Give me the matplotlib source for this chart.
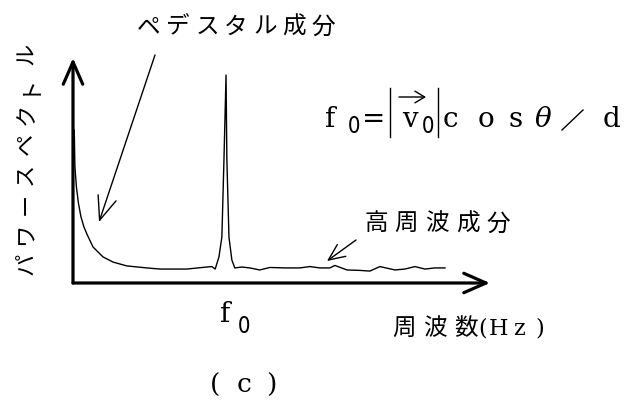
import numpy as np
import matplotlib
matplotlib.use("Agg")
import matplotlib.pyplot as plt

W, H = 636, 405

# power spectrum sketch (frequency and power in arbitrary units, 0-100)
freq = [0.30, 0.45, 0.80, 1.30, 1.90, 2.60, 3.40, 4.80, 7.19, 9.59, 12.9, 17.7,
        20.9, 27.3, 32.1, 33.3, 34.1, 35.0, 35.7, 36.2, 36.7, 36.9, 37.4, 38.1,
        38.8, 40.5, 42.4, 44.8, 47.2, 50.8, 54.4, 56.8, 59.2, 61.6, 62.8, 65.7,
        68.8, 71.2, 73.6, 77.2, 79.6, 82.0, 84.4, 86.8, 89.2]
power = [68.0, 52.0, 43.0, 35.5, 29.5, 25.0, 21.5, 16.0, 11.6, 9.3, 7.6, 6.7,
         6.2, 6.2, 7.1, 7.3, 6.2, 11.6, 20.4, 54.7, 92.4, 54.7, 20.4, 10.2,
         6.7, 7.1, 6.7, 5.8, 6.9, 6.7, 6.7, 7.3, 6.7, 6.7, 7.8, 5.8,
         5.6, 5.3, 7.3, 5.8, 6.2, 7.3, 6.2, 6.7, 6.7]

ylabel_chars = "パワースペクトル"
pedestal_label = "ペデスタル成分"
highfreq_label = "高周波成分"
xlabel_chars = "周波数"

JP = "Noto Sans CJK JP"
SERIF = "DejaVu Serif"

fig = plt.figure(figsize=(W / 100, H / 100), dpi=100)
fig.patch.set_facecolor("white")

# plot area: origin at pixel (73, 283), arrow tips at (73, 58) and (490, 283)
x0, y0, x1, y1 = 73, 283, 490, 58
ax = fig.add_axes([x0 / W, 1 - y0 / H, (x1 - x0) / W, (y0 - y1) / H])
ax.set_xlim(0, 100)
ax.set_ylim(0, 100)
ax.axis("off")
ax.plot(freq, power, color="black", lw=1.0, solid_joinstyle="round")

# axes drawn as arrows
arrow_kw = dict(arrowstyle="->,head_length=0.8,head_width=0.35",
                color="black", lw=2.3, mutation_scale=20, shrinkA=0, shrinkB=0)
ax.annotate("", xy=(0, 1), xytext=(0, 0), xycoords="axes fraction",
            arrowprops=arrow_kw, annotation_clip=False)
ax.annotate("", xy=(1, 0), xytext=(0, 0), xycoords="axes fraction",
            arrowprops=arrow_kw, annotation_clip=False)

# overlay in pixel coordinates for the labels
ov = fig.add_axes([0, 0, 1, 1], facecolor="none")
ov.set_xlim(0, W)
ov.set_ylim(H, 0)
ov.axis("off")


def spaced(x, y, s, step, **kw):
    for i, ch in enumerate(s):
        ov.text(x + i * step, y, ch, ha="center", va="center", **kw)


# vertical axis label, read bottom to top
for i, ch in enumerate(ylabel_chars):
    ov.text(26, 264 - i * 30, ch, ha="center", va="center", rotation=90,
            fontsize=16, family=JP)

spaced(149, 27, pedestal_label, 29, fontsize=17, family=JP)
ov.annotate("", xy=(99, 222), xytext=(155, 55),
            arrowprops=dict(arrowstyle="->,head_length=1.0,head_width=0.4",
                            color="black", lw=1.0, mutation_scale=17,
                            shrinkA=0, shrinkB=0))

spaced(376, 224, highfreq_label, 30.5, fontsize=17, family=JP)
ov.annotate("", xy=(327, 261), xytext=(356, 240),
            arrowprops=dict(arrowstyle="->,head_length=0.9,head_width=0.4",
                            color="black", lw=1.0, mutation_scale=13,
                            shrinkA=0, shrinkB=0))

# frequency axis label
spaced(404, 329, xlabel_chars, 31, fontsize=17, family=JP)
for x, ch in zip([483, 499, 519, 540], "(Hz)"):
    ov.text(x, 329, ch, ha="center", va="center", fontsize=16, family=SERIF)

# f0 below the peak
ov.text(225, 322, "f", ha="center", va="baseline", fontsize=20, family=SERIF)
ov.text(244, 333, "0", ha="center", va="baseline", fontsize=16, family=JP)

# f0 = |v0| cos θ / d
base = 127
ov.text(330, base, "f", ha="center", va="baseline", fontsize=20, family=SERIF)
ov.text(354, base + 6, "0", ha="center", va="baseline", fontsize=16, family=JP)
ov.text(374, base, "=", ha="center", va="baseline", fontsize=20, family=SERIF)
ov.plot([390, 390], [88, 137], color="black", lw=1.0)
ov.plot([438, 438], [88, 137], color="black", lw=1.0)
ov.annotate("", xy=(426, 97), xytext=(399, 97),
            arrowprops=dict(arrowstyle="->,head_length=0.5,head_width=0.3",
                            color="black", lw=1.0, mutation_scale=14,
                            shrinkA=0, shrinkB=0))
ov.text(410, base, "v", ha="center", va="baseline", fontsize=20, family=SERIF)
ov.text(428, base + 6, "0", ha="center", va="baseline", fontsize=16, family=JP)
for x, ch in zip([450, 486, 516], "cos"):
    ov.text(x, base, ch, ha="center", va="baseline", fontsize=20, family=SERIF)
ov.text(543, base, "θ", ha="center", va="baseline", fontsize=20,
        family=SERIF, style="italic")
ov.plot([562, 583], [130, 110], color="black", lw=1.0)
ov.text(612, base, "d", ha="center", va="baseline", fontsize=20, family=SERIF)

# panel tag
for x, ch in zip([215, 244, 271], "(c)"):
    ov.text(x, 385, ch, ha="center", va="center", fontsize=19, family=SERIF)

fig.savefig("out.png", dpi=100, facecolor="white")
